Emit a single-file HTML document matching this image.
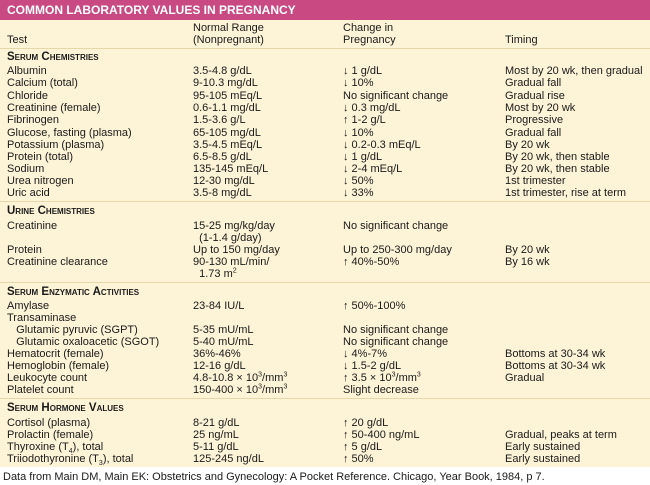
<!DOCTYPE html>
<html><head><meta charset="utf-8"><style>
body{margin:0;width:650px;height:485px;background:#fff;font-family:"Liberation Sans",sans-serif;color:#1a1a1a;position:relative;overflow:hidden}
.t{position:absolute;left:0;top:0;width:650px;height:20px;background:#c94a82;color:#fff;font-weight:bold;font-size:12px;line-height:20px;padding-left:7px;box-sizing:border-box}
.bg{position:absolute;left:0;top:20px;width:650px;height:447px;background:#fdf3d6}
.ln{position:absolute;left:0;width:650px;height:1px;background:#e6d6a8}
.r{position:absolute;font-size:11px;line-height:12px;white-space:nowrap;height:12px}
.c1{left:7px}.c2{left:193px}.c3{left:343px}.c4{left:505px}
.s{font-weight:bold;font-size:11.5px;font-variant:small-caps}
.f{position:absolute;left:3px;top:471px;font-size:11px;white-space:nowrap}
sub,sup{font-size:7px;line-height:0}
</style></head><body>
<div class="t">COMMON LABORATORY VALUES IN PREGNANCY</div>
<div class="bg"></div>
<div class="ln" style="top:48px"></div>
<div class="ln" style="top:201px"></div>
<div class="ln" style="top:282px"></div>
<div class="ln" style="top:398px"></div>

<div class="r c2" style="top:22px">Normal Range</div><div class="r c3" style="top:22px">Change in</div>
<div class="r c1" style="top:34px">Test</div><div class="r c2" style="top:34px">(Nonpregnant)</div><div class="r c3" style="top:34px">Pregnancy</div><div class="r c4" style="top:34px">Timing</div>

<div class="r c1 s" style="top:51px">Serum Chemistries</div>
<div class="r c1" style="top:65px">Albumin</div><div class="r c2" style="top:65px">3.5-4.8 g/dL</div><div class="r c3" style="top:65px">↓ 1 g/dL</div><div class="r c4" style="top:65px">Most by 20 wk, then gradual</div>
<div class="r c1" style="top:77px">Calcium (total)</div><div class="r c2" style="top:77px">9-10.3 mg/dL</div><div class="r c3" style="top:77px">↓ 10%</div><div class="r c4" style="top:77px">Gradual fall</div>
<div class="r c1" style="top:90px">Chloride</div><div class="r c2" style="top:90px">95-105 mEq/L</div><div class="r c3" style="top:90px">No significant change</div><div class="r c4" style="top:90px">Gradual rise</div>
<div class="r c1" style="top:102px">Creatinine (female)</div><div class="r c2" style="top:102px">0.6-1.1 mg/dL</div><div class="r c3" style="top:102px">↓ 0.3 mg/dL</div><div class="r c4" style="top:102px">Most by 20 wk</div>
<div class="r c1" style="top:114px">Fibrinogen</div><div class="r c2" style="top:114px">1.5-3.6 g/L</div><div class="r c3" style="top:114px">↑ 1-2 g/L</div><div class="r c4" style="top:114px">Progressive</div>
<div class="r c1" style="top:127px">Glucose, fasting (plasma)</div><div class="r c2" style="top:127px">65-105 mg/dL</div><div class="r c3" style="top:127px">↓ 10%</div><div class="r c4" style="top:127px">Gradual fall</div>
<div class="r c1" style="top:139px">Potassium (plasma)</div><div class="r c2" style="top:139px">3.5-4.5 mEq/L</div><div class="r c3" style="top:139px">↓ 0.2-0.3 mEq/L</div><div class="r c4" style="top:139px">By 20 wk</div>
<div class="r c1" style="top:151px">Protein (total)</div><div class="r c2" style="top:151px">6.5-8.5 g/dL</div><div class="r c3" style="top:151px">↓ 1 g/dL</div><div class="r c4" style="top:151px">By 20 wk, then stable</div>
<div class="r c1" style="top:163px">Sodium</div><div class="r c2" style="top:163px">135-145 mEq/L</div><div class="r c3" style="top:163px">↓ 2-4 mEq/L</div><div class="r c4" style="top:163px">By 20 wk, then stable</div>
<div class="r c1" style="top:175px">Urea nitrogen</div><div class="r c2" style="top:175px">12-30 mg/dL</div><div class="r c3" style="top:175px">↓ 50%</div><div class="r c4" style="top:175px">1st trimester</div>
<div class="r c1" style="top:187px">Uric acid</div><div class="r c2" style="top:187px">3.5-8 mg/dL</div><div class="r c3" style="top:187px">↓ 33%</div><div class="r c4" style="top:187px">1st trimester, rise at term</div>

<div class="r c1 s" style="top:205px">Urine Chemistries</div>
<div class="r c1" style="top:220px">Creatinine</div><div class="r c2" style="top:220px">15-25 mg/kg/day</div><div class="r c3" style="top:220px">No significant change</div>
<div class="r c2" style="top:232px">&nbsp;&nbsp;(1-1.4 g/day)</div>
<div class="r c1" style="top:244px">Protein</div><div class="r c2" style="top:244px">Up to 150 mg/day</div><div class="r c3" style="top:244px">Up to 250-300 mg/day</div><div class="r c4" style="top:244px">By 20 wk</div>
<div class="r c1" style="top:256px">Creatinine clearance</div><div class="r c2" style="top:256px">90-130 mL/min/</div><div class="r c3" style="top:256px">↑ 40%-50%</div><div class="r c4" style="top:256px">By 16 wk</div>
<div class="r c2" style="top:268px">&nbsp;&nbsp;1.73 m<sup>2</sup></div>

<div class="r c1 s" style="top:286px">Serum Enzymatic Activities</div>
<div class="r c1" style="top:300px">Amylase</div><div class="r c2" style="top:300px">23-84 IU/L</div><div class="r c3" style="top:300px">↑ 50%-100%</div>
<div class="r c1" style="top:312px">Transaminase</div>
<div class="r c1" style="top:324px">&nbsp;&nbsp;&nbsp;Glutamic pyruvic (SGPT)</div><div class="r c2" style="top:324px">5-35 mU/mL</div><div class="r c3" style="top:324px">No significant change</div>
<div class="r c1" style="top:336px">&nbsp;&nbsp;&nbsp;Glutamic oxaloacetic (SGOT)</div><div class="r c2" style="top:336px">5-40 mU/mL</div><div class="r c3" style="top:336px">No significant change</div>
<div class="r c1" style="top:348px">Hematocrit (female)</div><div class="r c2" style="top:348px">36%-46%</div><div class="r c3" style="top:348px">↓ 4%-7%</div><div class="r c4" style="top:348px">Bottoms at 30-34 wk</div>
<div class="r c1" style="top:360px">Hemoglobin (female)</div><div class="r c2" style="top:360px">12-16 g/dL</div><div class="r c3" style="top:360px">↓ 1.5-2 g/dL</div><div class="r c4" style="top:360px">Bottoms at 30-34 wk</div>
<div class="r c1" style="top:372px">Leukocyte count</div><div class="r c2" style="top:372px">4.8-10.8 × 10<sup>3</sup>/mm<sup>3</sup></div><div class="r c3" style="top:372px">↑ 3.5 × 10<sup>3</sup>/mm<sup>3</sup></div><div class="r c4" style="top:372px">Gradual</div>
<div class="r c1" style="top:384px">Platelet count</div><div class="r c2" style="top:384px">150-400 × 10<sup>3</sup>/mm<sup>3</sup></div><div class="r c3" style="top:384px">Slight decrease</div>

<div class="r c1 s" style="top:402px">Serum Hormone Values</div>
<div class="r c1" style="top:417px">Cortisol (plasma)</div><div class="r c2" style="top:417px">8-21 g/dL</div><div class="r c3" style="top:417px">↑ 20 g/dL</div>
<div class="r c1" style="top:429px">Prolactin (female)</div><div class="r c2" style="top:429px">25 ng/mL</div><div class="r c3" style="top:429px">↑ 50-400 ng/mL</div><div class="r c4" style="top:429px">Gradual, peaks at term</div>
<div class="r c1" style="top:441px">Thyroxine (T<sub>4</sub>), total</div><div class="r c2" style="top:441px">5-11 g/dL</div><div class="r c3" style="top:441px">↑ 5 g/dL</div><div class="r c4" style="top:441px">Early sustained</div>
<div class="r c1" style="top:453px">Triiodothyronine (T<sub>3</sub>), total</div><div class="r c2" style="top:453px">125-245 ng/dL</div><div class="r c3" style="top:453px">↑ 50%</div><div class="r c4" style="top:453px">Early sustained</div>

<div class="f">Data from Main DM, Main EK: Obstetrics and Gynecology: A Pocket Reference. Chicago, Year Book, 1984, p 7.</div>
</body></html>
